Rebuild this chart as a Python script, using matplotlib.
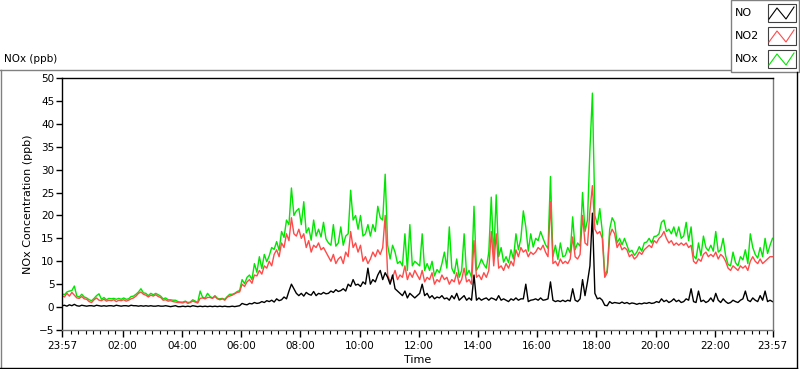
import numpy as np
import matplotlib
matplotlib.use("Agg")
import matplotlib.pyplot as plt
from matplotlib.lines import Line2D
from matplotlib.patches import Rectangle

# 5-minute readings from 23:57 to 23:57 next day, one row per hour (ppb)
no2 = [
    2.5, 2.2, 3.0, 2.4, 3.2, 2.6, 2.0, 1.9, 2.3, 1.8, 1.7, 1.2,
    1.0, 1.6, 2.0, 1.5, 1.4, 1.7, 1.3, 1.5, 1.4, 1.6, 1.2, 1.5,
    1.4, 1.6, 1.3, 1.5, 1.8, 2.0, 2.4, 3.0, 3.3, 2.8, 2.6, 2.2,
    2.6, 2.4, 2.7, 2.3, 2.1, 1.5, 1.6, 1.3, 1.4, 1.2, 1.1, 1.0,
    1.0, 0.9, 1.2, 0.8, 1.0, 1.3, 1.1, 0.9, 1.9, 2.0, 1.8, 2.1,
    2.1, 1.9, 2.3, 1.8, 1.6, 1.8, 1.5, 2.2, 2.4, 2.6, 2.9, 3.2,
    3.3, 5.0, 4.5, 5.5, 6.0, 5.2, 7.0, 6.8, 8.0, 7.2, 9.0, 8.5,
    10.0, 9.0, 11.5, 12.5, 11.0, 14.0, 13.0, 16.0, 14.5, 19.5, 16.0, 15.5,
    17.0, 15.0, 16.0, 13.0, 14.5, 12.0, 13.5, 13.0, 14.0, 12.5, 13.0, 12.0,
    11.0, 10.0, 11.5, 9.5, 10.5, 11.0, 9.5, 12.0, 11.0, 16.5, 13.0, 14.0,
    12.0, 13.5, 10.0, 11.0, 9.5, 10.5, 12.0, 11.0, 12.5, 11.5, 13.0, 20.0,
    7.0, 5.5, 6.5, 8.0, 6.0, 7.0, 6.5, 9.0, 6.0, 7.5, 6.5, 8.0,
    7.0, 6.0, 8.0, 5.5, 6.5, 6.0, 7.5, 5.0, 6.0, 5.5, 7.0, 6.0,
    6.5, 5.0, 6.0, 5.5, 7.5, 5.0, 6.0, 8.5, 5.5, 6.0, 5.0, 14.5,
    6.5, 7.0, 6.0, 7.5, 6.5, 8.0, 16.5, 9.0, 16.0, 8.5, 9.0, 8.0,
    9.5, 8.5, 10.0, 9.0, 12.5, 11.0, 13.0, 12.0, 12.5, 11.0, 12.0, 11.5,
    12.0, 13.0, 12.5, 13.5, 12.0, 11.0, 23.0, 9.5, 10.0, 9.0, 10.5, 9.5,
    10.0, 9.5, 10.5, 15.3, 11.0, 10.5, 11.5, 20.0, 14.0, 13.5, 21.0, 26.5,
    17.0, 16.0, 16.5, 15.0, 6.5, 7.5, 15.5, 17.0, 16.0, 13.0, 14.0, 12.5,
    13.0, 12.5, 11.0, 11.5, 10.5, 11.0, 12.0, 11.5, 12.5, 13.0, 13.5, 13.0,
    14.5, 14.0, 15.0, 15.5, 16.5, 15.0, 14.0, 14.5, 13.5, 14.0, 13.5, 14.0,
    13.5, 14.0, 13.0, 13.5, 10.0, 9.5, 10.5, 10.0, 11.5, 12.0, 11.0, 11.5,
    11.0, 12.0, 10.5, 11.5, 11.0, 10.0, 8.5, 8.0, 9.0, 8.5, 8.0, 9.0,
    8.5, 9.0, 8.0, 10.0, 11.0, 10.0, 9.5, 10.5, 9.5, 10.0, 10.5, 11.0,
    11.0,
]

no = [
    0.3, 0.4, 0.2, 0.5, 0.3, 0.6, 0.3, 0.2, 0.4, 0.3, 0.2, 0.3,
    0.3, 0.2, 0.4, 0.3, 0.2, 0.3, 0.2, 0.3, 0.3, 0.2, 0.4, 0.3,
    0.2, 0.3, 0.3, 0.2, 0.4, 0.3, 0.3, 0.2, 0.3, 0.2, 0.3, 0.2,
    0.3, 0.2, 0.2, 0.3, 0.2, 0.2, 0.3, 0.2, 0.1, 0.2, 0.3, 0.1,
    0.1, 0.2, 0.1, 0.2, 0.1, 0.3, 0.2, 0.1, 0.2, 0.1, 0.2, 0.1,
    0.2, 0.1, 0.2, 0.1, 0.2, 0.1, 0.2, 0.1, 0.1, 0.2, 0.1, 0.2,
    0.3, 0.8, 0.6, 0.5, 0.8, 0.7, 1.0, 0.8, 0.9, 1.2, 1.0, 1.4,
    1.2, 1.5, 1.1, 1.8, 1.4, 1.6, 2.2, 1.8, 3.5, 5.0, 4.0, 3.0,
    2.5, 3.0, 2.4, 3.2, 2.8, 2.6, 3.4, 2.5, 3.0, 2.8, 3.2, 2.9,
    3.0, 3.5, 3.2, 3.8, 3.4, 3.6, 4.0, 3.5, 5.0, 4.5, 6.0, 4.8,
    5.0, 4.5, 5.5, 5.0, 8.5, 5.0, 6.0, 5.5, 7.0, 8.0, 6.0, 7.5,
    6.5, 5.0, 7.0, 4.0, 3.5, 3.0, 2.5, 3.5, 2.0, 3.0, 2.5, 2.0,
    2.5, 3.0, 5.0, 2.5, 3.0, 2.0, 2.5, 1.8, 2.2, 2.0, 2.5, 1.8,
    2.0, 1.5, 2.5, 1.8, 3.0, 1.5, 2.0, 2.5, 1.5, 2.0, 1.5, 7.0,
    1.5, 2.0, 1.5, 1.8, 2.0, 1.5, 2.0, 1.8, 1.5, 2.5, 1.5, 1.8,
    1.5, 1.2, 1.8, 1.5, 2.0, 1.5, 1.8, 1.8, 5.0, 1.2, 1.5, 1.6,
    1.8, 1.5, 2.0, 1.5, 1.6, 1.8, 5.5, 1.5, 1.2, 1.4, 1.2, 1.5,
    1.2, 1.5, 1.3, 4.0, 1.5, 1.2, 1.8, 6.0, 2.5, 5.5, 9.0, 20.5,
    3.0, 1.8, 2.0, 1.5, 0.4, 0.3, 1.2, 0.8, 1.0, 0.9, 0.8, 1.1,
    0.8, 1.0, 0.7, 0.9, 0.8, 0.6, 0.8, 0.7, 0.9, 0.8, 1.0, 0.8,
    0.9, 1.2, 1.0, 1.8, 1.2, 1.5, 1.0, 1.3, 1.8, 1.2, 1.5, 1.0,
    1.2, 1.8, 1.5, 4.0, 1.2, 1.0, 3.5, 1.2, 1.5, 1.0, 1.3, 2.0,
    1.2, 3.0, 1.5, 1.0, 1.8, 1.2, 0.8, 1.0, 1.5, 1.2, 1.0, 1.5,
    1.8, 3.5, 1.5, 1.2, 2.0, 1.5, 1.2, 2.5, 1.5, 3.5, 1.2, 1.5,
    1.2,
]

nox = [
    2.9, 2.7, 3.3, 3.5, 3.6, 4.6, 2.4, 2.2, 2.8, 2.2, 2.0, 1.6,
    1.4, 1.9, 2.5, 2.9, 1.7, 2.1, 1.6, 1.9, 1.8, 1.9, 1.7, 1.9,
    1.7, 2.0, 1.7, 1.8, 2.3, 2.4, 2.8, 3.3, 4.0, 3.1, 3.0, 2.5,
    3.0, 2.7, 3.0, 2.7, 2.4, 1.8, 2.0, 1.6, 1.6, 1.5, 1.5, 1.2,
    1.1, 1.1, 1.3, 1.0, 1.1, 1.6, 1.3, 1.0, 3.5, 2.1, 2.0, 3.0,
    2.3, 2.0, 2.5, 1.9, 1.8, 1.9, 1.7, 2.3, 2.8, 2.8, 3.0, 3.4,
    3.6, 6.0, 5.1, 6.5, 7.0, 6.0, 9.5, 7.6, 11.0, 8.4, 11.5, 9.9,
    11.2, 13.0, 12.6, 14.3, 12.4, 16.5, 15.2, 19.0, 18.0, 26.0, 20.0, 21.0,
    21.5, 18.0, 23.0, 16.2, 17.3, 14.6, 19.0, 15.5, 17.0, 15.3, 18.5, 14.9,
    14.0, 13.5, 18.0, 13.3, 14.0, 17.5, 13.5, 15.5, 16.0, 25.5, 19.0, 20.0,
    17.0, 20.0, 15.5, 16.0, 18.0, 15.5, 18.0, 16.5, 22.0, 19.5, 19.0, 29.0,
    13.5, 10.5, 13.5, 12.0, 9.5, 10.0, 9.0, 16.0, 8.0, 18.0, 9.0, 10.0,
    9.5, 9.0, 16.0, 8.0, 9.5, 8.0, 10.0, 6.8, 8.2, 7.5, 9.5, 12.0,
    8.5, 17.5, 8.5, 7.3, 10.5, 6.5, 8.0, 16.0, 7.0, 8.0, 6.5, 22.0,
    8.0, 9.0, 10.5, 9.3, 8.5, 12.0, 24.0, 10.8, 24.5, 11.0, 13.0, 9.8,
    11.0, 9.7, 12.5, 10.5, 16.0, 12.5, 15.0, 21.0, 17.5, 12.2, 16.0, 13.1,
    15.0, 14.5, 16.5, 15.0, 13.6, 12.8, 28.5, 11.0, 13.5, 10.4, 14.0, 11.0,
    11.2, 13.0, 11.8, 19.7, 12.5, 14.0, 13.3, 25.0, 16.5, 19.0, 34.5, 46.7,
    20.0, 18.0, 21.5, 16.5, 7.0, 8.0, 17.0, 19.5, 18.5, 14.0, 15.0, 13.6,
    15.0, 13.5, 12.0, 12.4, 11.3, 12.0, 13.2, 12.2, 14.0, 14.2, 15.0, 14.0,
    15.4, 15.5, 16.0, 18.5, 19.0, 16.5, 17.0, 16.0, 17.5, 15.5, 17.5, 15.0,
    15.5, 18.5, 14.5, 17.5, 11.2, 10.5, 14.0, 11.2, 15.5, 13.0, 12.3, 13.5,
    12.2, 16.5, 12.0, 12.5, 15.0, 11.2, 9.3, 9.0, 12.0, 9.7, 9.0, 11.0,
    10.3, 12.5, 9.5, 16.0, 13.0, 11.5, 10.7, 13.0, 11.0, 15.0, 11.7, 13.5,
    15.0,
]

step_min = 5
tick_labels = ["23:57", "02:00", "04:00", "06:00", "08:00", "10:00", "12:00",
               "14:00", "16:00", "18:00", "20:00", "22:00", "23:57"]

W, H = 800, 369


def fx(px):
    return px / W


def fy(py):
    return 1 - py / H


fig = plt.figure(figsize=(8, 3.69), dpi=100)
fig.patch.set_facecolor("white")
plt.rcParams["font.family"] = ["DejaVu Sans"]

ax = fig.add_axes([fx(62), fy(330), fx(772.5) - fx(62), fy(78) - fy(330)])

t = np.arange(len(no2)) * step_min
ax.plot(t, nox, color="#00e600", lw=1.0)
ax.plot(t, no2, color="#ff4a4a", lw=1.0)
ax.plot(t, no, color="black", lw=1.0)

ax.set_xlim(0, 1440)
ax.set_ylim(-5, 50)
ax.set_yticks(np.arange(-5, 51, 5))
major = [0] + list(range(3 + 120, 1440, 120)) + [1440]
ax.set_xticks(major)
ax.set_xticklabels(tick_labels)
ax.set_xticks(np.arange(18, 1440, 15), minor=True)
ax.tick_params(axis="both", labelsize=7.5, colors="black", direction="out")
ax.tick_params(axis="y", length=4, width=1, pad=1.5)
ax.tick_params(axis="x", which="major", length=5, width=1, pad=3)
ax.tick_params(axis="x", which="minor", length=3, width=0.8)

for side in ["top", "left"]:
    ax.spines[side].set_color("black")
for side in ["bottom", "right"]:
    ax.spines[side].set_color("#777777")
for s in ax.spines.values():
    s.set_linewidth(1)

ax.set_ylabel("NOx Concentration (ppb)", fontsize=8, labelpad=4)
ax.set_xlabel("Time", fontsize=8, labelpad=3)

# outer panel frame
fig.add_artist(Line2D([fx(0), fx(730)], [fy(69.5), fy(69.5)], color="#808080", lw=1))
fig.add_artist(Line2D([fx(0.5), fx(0.5)], [fy(69.5), fy(368)], color="#808080", lw=1))
fig.add_artist(Line2D([fx(0), fx(797)], [fy(368), fy(368)], color="black", lw=1))
fig.add_artist(Line2D([fx(797), fx(797)], [fy(72), fy(368)], color="black", lw=1))
fig.text(fx(4), fy(59), "NOx (ppb)", fontsize=7.5, va="center", ha="left")

# legend panel
fig.add_artist(Rectangle((fx(730.5), fy(72)), fx(799) - fx(730.5), fy(0) - fy(72),
                         facecolor="white", edgecolor="#808080", lw=1))
names = ["NO", "NO2", "NOx"]
colors = ["black", "#ff4a4a", "#00e600"]
rows = [13, 36, 59]
for name, col, yc in zip(names, colors, rows):
    fig.text(fx(735), fy(yc), name, fontsize=8, va="center", ha="left")
    fig.add_artist(Rectangle((fx(767.5), fy(yc + 9)), fx(795.5) - fx(767.5), fy(yc - 9) - fy(yc + 9),
                             facecolor="white", edgecolor="#404040", lw=0.8))
    fig.add_artist(Line2D([fx(769), fx(777), fx(786), fx(794)],
                          [fy(yc + 6), fy(yc - 5), fy(yc + 6), fy(yc - 6)], color=col, lw=0.8))

fig.savefig("out.png", dpi=100)
